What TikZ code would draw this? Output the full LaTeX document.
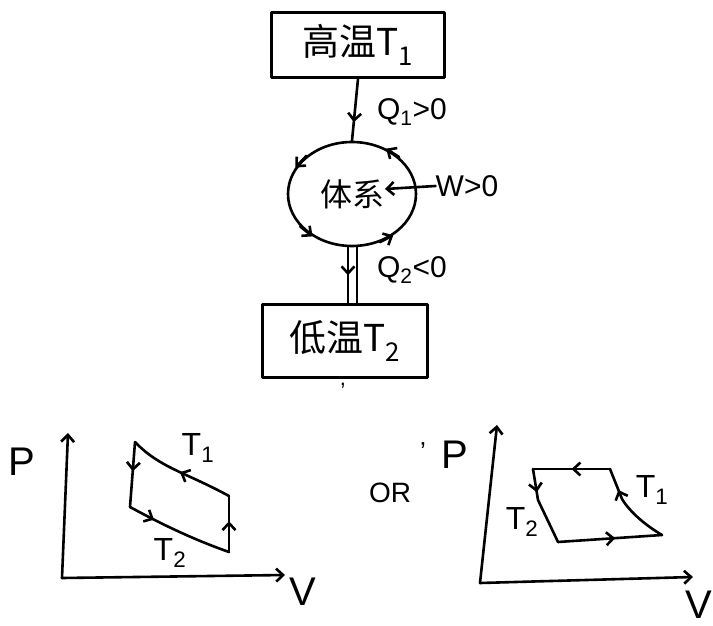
\documentclass[tikz,border=0pt]{standalone}
\usepackage{fontspec}
\setmainfont{Liberation Sans}
\newfontfamily\cjk{Noto Sans CJK SC}
\usetikzlibrary{arrows.meta,shapes.geometric,decorations.markings}
\begin{document}
\begin{tikzpicture}[x=1pt,y=-1pt,
  pen/.style={line width=2.6pt,line cap=round,line join=round},
  barb/.tip={Straight Barb[length=7pt,width=13pt]},
  tip/.style={-barb},
  box/.style={pen,draw,rectangle,inner sep=0pt},
  midarrow/.style={postaction={decorate},decoration={markings,mark=at position #1 with {\arrow{barb}}}},
  lab/.style={inner sep=0pt,font=\fontsize{30}{32}\selectfont},
  big/.style={inner sep=0pt,font=\fontsize{40}{42}\selectfont},
  tlab/.style={inner sep=0pt,font=\fontsize{32}{34}\selectfont}
]
\useasboundingbox (0,0) rectangle (713,626);

% ---- heat engine diagram ----
\node[box,minimum width=173pt,minimum height=65pt] (hot) at (358,45)
  {\cjk\fontsize{37}{39}\selectfont 高温T\textsubscript{1}};
\node[pen,draw,ellipse,minimum width=128pt,minimum height=104pt,inner sep=0pt] (sys) at (352,194)
  {\cjk\fontsize{32}{34}\selectfont 体系};
\node[box,minimum width=165pt,minimum height=73pt] (cold) at (345,341)
  {\cjk\fontsize{37}{39}\selectfont 低温T\textsubscript{2}};

\draw[pen,midarrow=0.7] (hot.south) -- (sys.north);
\node[lab] (q1) at (412,112) {Q\textsubscript{1}>0};

\draw[pen,midarrow=0.5] ([xshift=-4pt]sys.south) -- ([xshift=-4pt]sys.south |- cold.north);
\draw[pen] ([xshift=5pt]sys.south) -- ([xshift=5pt]sys.south |- cold.north);
\node[lab] (q2) at (412,270) {Q\textsubscript{2}<0};

\node[lab] (w) at (467,186) {W>0};
\coordinate (wtip) at (385,189);
\draw[pen,tip] (w.west) -- (wtip);

\foreach \a/\b in {140/155,212/227,300/315,38/53}
  \draw[pen,tip] (sys.\a) -- (sys.\b);

\node[inner sep=0pt,font=\fontsize{22}{24}\selectfont] (comma) at (343,386) {,};

% ---- left PV diagram ----
\coordinate (LO) at (62,578);
\coordinate (LY) at (68,433);
\coordinate (LX) at (285,575);
\draw[pen,tip] (LO) -- (LY);
\draw[pen,tip] (LO) -- (LX);
\node[big] (lp) at (22,462) {P};
\node[big] (lv) at (303,592) {V};
\coordinate (A) at (135,442);
\coordinate (B) at (229,496);
\coordinate (C) at (229,552);
\coordinate (D) at (130,507);
\draw[pen,midarrow=0.5] (B) .. controls (185,472) and (160,468) .. (A);
\draw[pen,midarrow=0.45] (A) -- (D);
\draw[pen,midarrow=0.25] (D) .. controls (165,526) and (195,540) .. (C);
\draw[pen,midarrow=0.55] (C) -- (B);
\node[tlab] (lt1) at (198,448) {T\textsubscript{1}};
\node[tlab] (lt2) at (170,553) {T\textsubscript{2}};

% ---- OR ----
\node[inner sep=0pt,font=\fontsize{28}{30}\selectfont] (or) at (390,493) {OR};
\node[inner sep=0pt,font=\fontsize{26}{28}\selectfont] (tick) at (423,452) {'};

% ---- right PV diagram ----
\coordinate (RO) at (480,583);
\coordinate (RY) at (497,425);
\coordinate (RX) at (693,577);
\draw[pen,tip] (RO) -- (RY);
\draw[pen,tip] (RO) -- (RX);
\node[big] (rp) at (455,455) {P};
\node[big,anchor=east] (rv) at (712,605) {V};
\coordinate (TL) at (533,469);
\coordinate (TR) at (610,469);
\coordinate (BR) at (662,535);
\coordinate (BL) at (558,542);
\coordinate (LM) at (538,500);
\coordinate (RM) at (622,499);
\draw[pen,midarrow=0.5] (TR) -- (TL);
\draw[pen,midarrow=0.75] (TL) -- (LM);
\draw[pen] (LM) -- (BL);
\draw[pen,midarrow=0.55] (BL) -- (BR);
\draw[pen] (BR) .. controls (645,525) and (630,512) .. (RM);
\draw[pen,midarrow=0.3] (RM) -- (TR);
\node[tlab] (rt1) at (652,490) {T\textsubscript{1}};
\node[tlab] (rt2) at (522,522) {T\textsubscript{2}};
\end{tikzpicture}
\end{document}
